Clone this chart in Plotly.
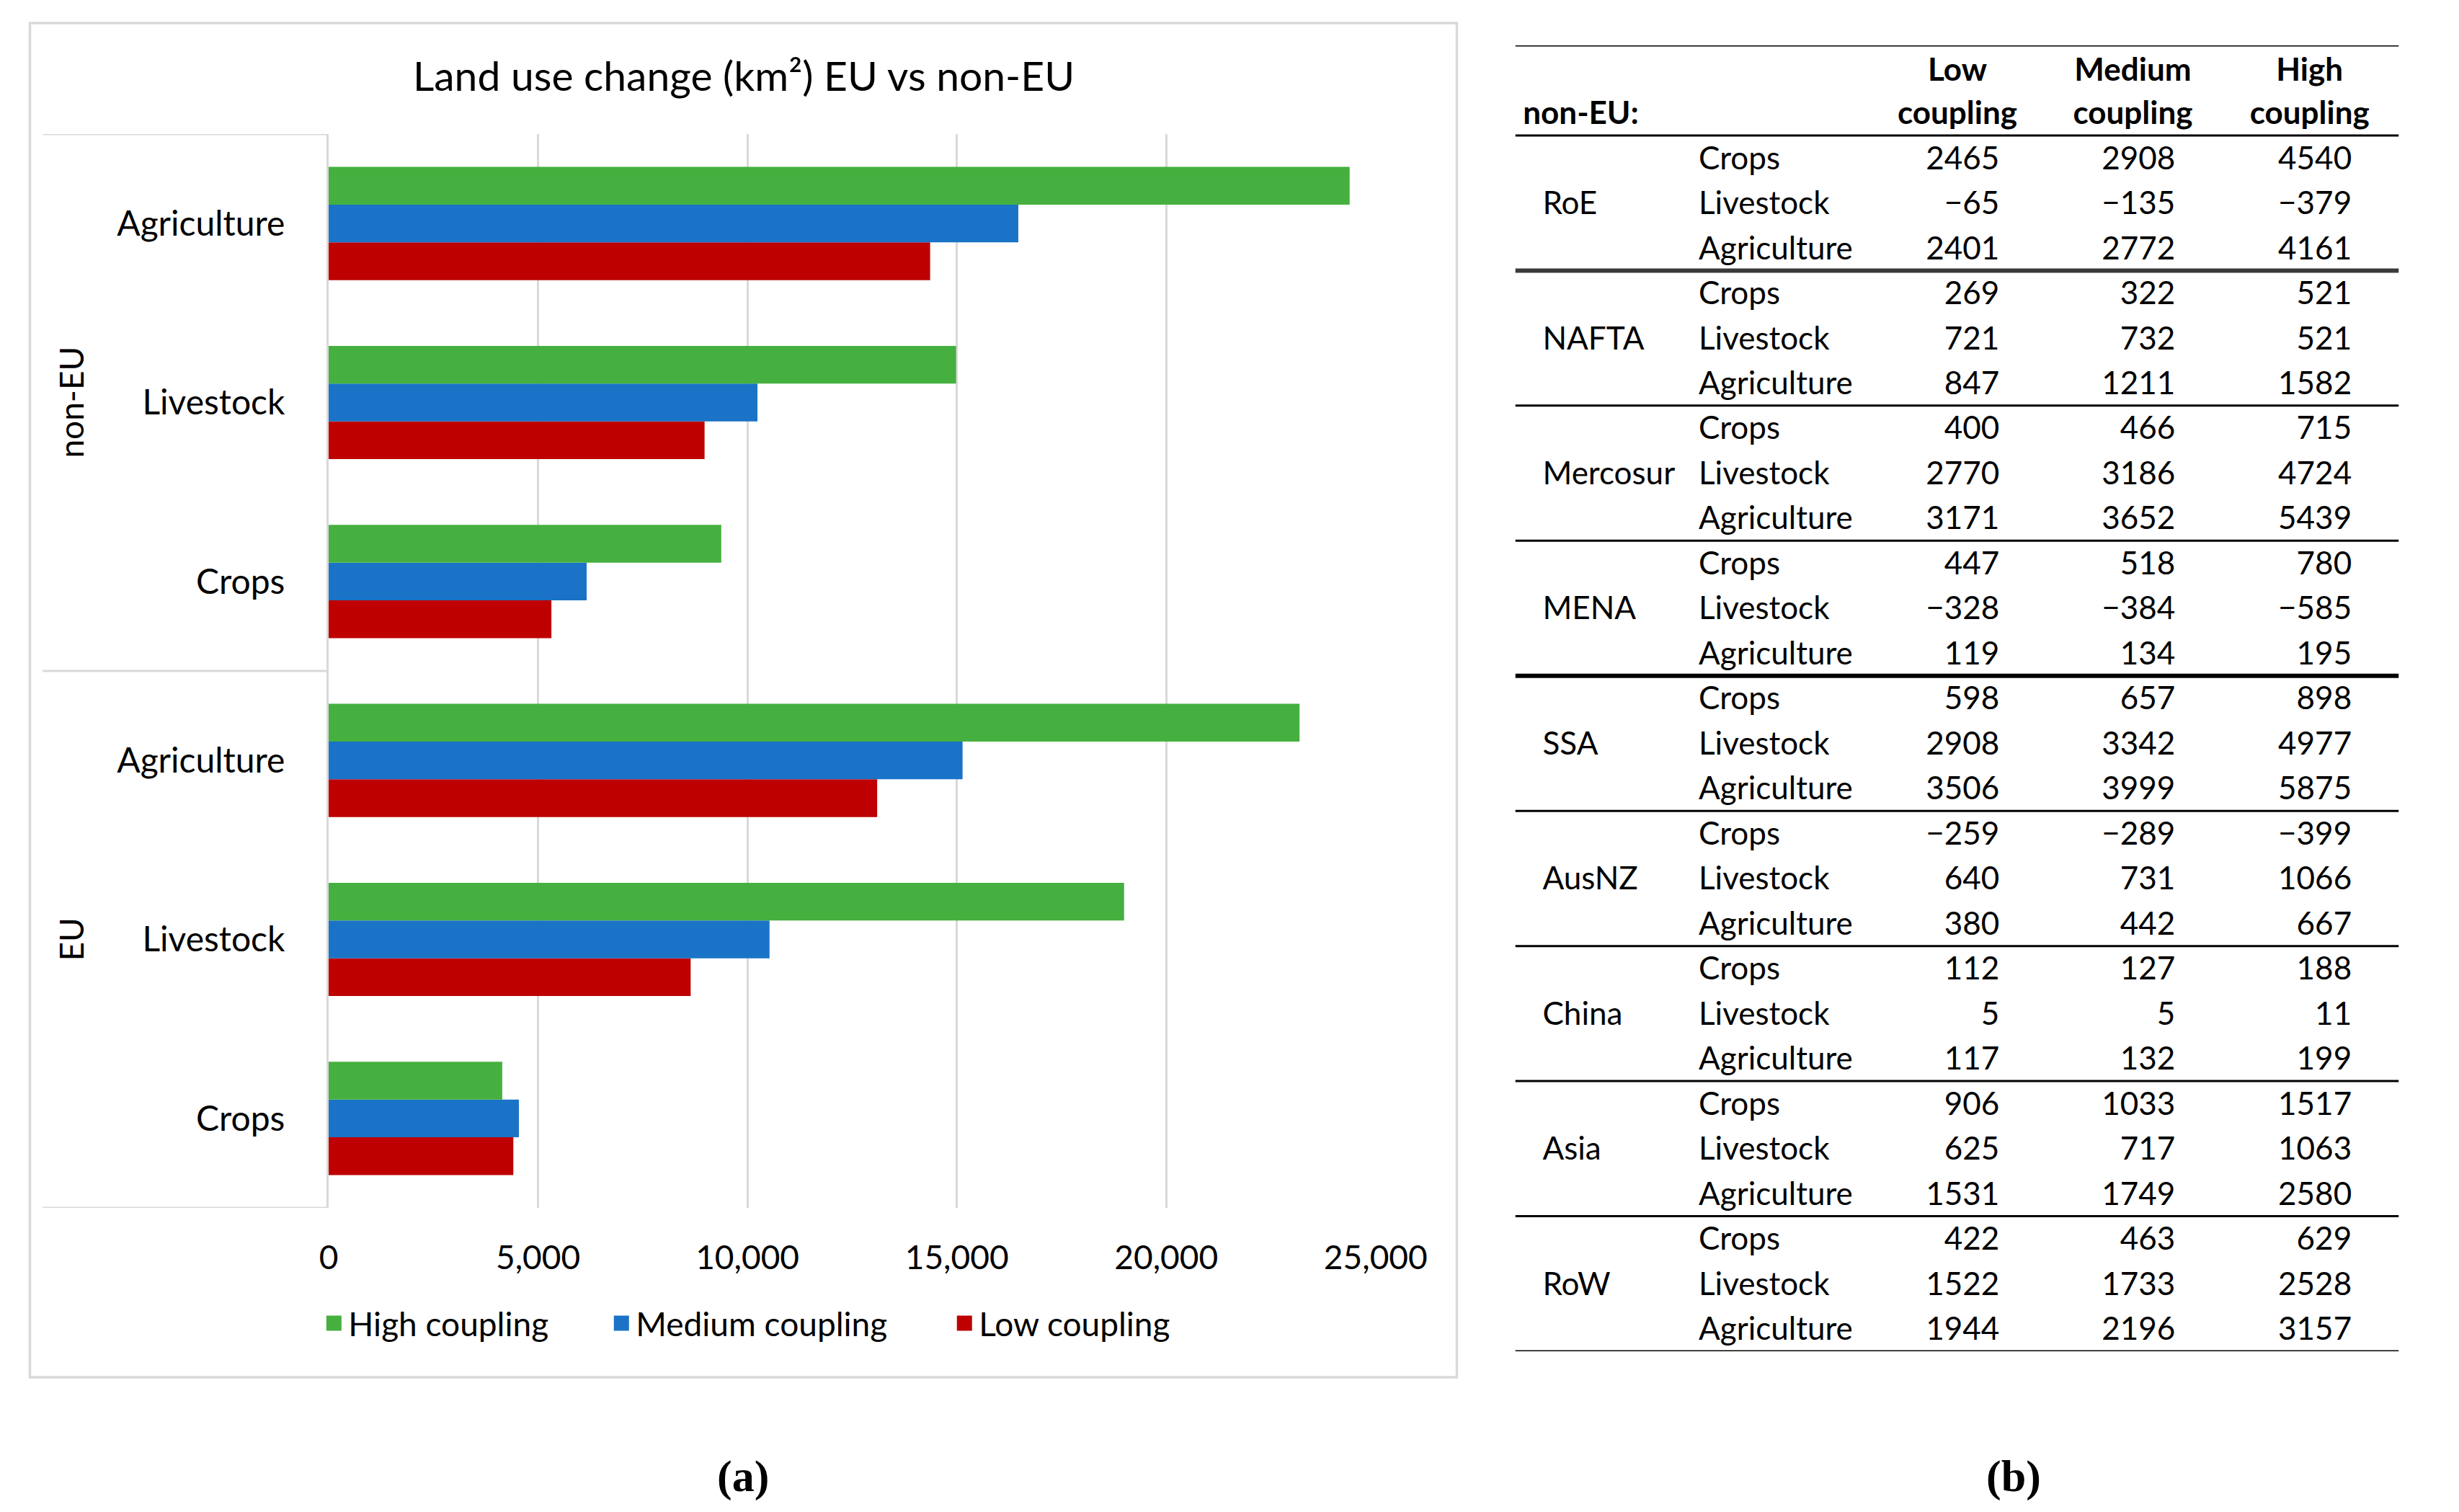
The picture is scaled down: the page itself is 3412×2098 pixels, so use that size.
import plotly.graph_objects as go

# ---------------- data ----------------
groups = ["EU", "EU", "EU", "non-EU", "non-EU", "non-EU"]
categories = ["Crops", "Livestock", "Agriculture", "Crops", "Livestock", "Agriculture"]
high_coupling = [4145, 18994, 23183, 9375, 14982, 24380]
medium_coupling = [4543, 10527, 15137, 6161, 10239, 16468]
low_coupling = [4410, 8644, 13098, 5319, 8976, 14362]
x_ticks = [0, 5000, 10000, 15000, 20000, 25000]

regions = ["RoE", "NAFTA", "Mercosur", "MENA", "SSA", "AusNZ", "China", "Asia", "RoW"]
items = ["Crops", "Livestock", "Agriculture"]
tbl_low = [2465, -65, 2401, 269, 721, 847, 400, 2770, 3171, 447, -328, 119,
           598, 2908, 3506, -259, 640, 380, 112, 5, 117, 906, 625, 1531, 422, 1522, 1944]
tbl_medium = [2908, -135, 2772, 322, 732, 1211, 466, 3186, 3652, 518, -384, 134,
              657, 3342, 3999, -289, 731, 442, 127, 5, 132, 1033, 717, 1749, 463, 1733, 2196]
tbl_high = [4540, -379, 4161, 521, 521, 1582, 715, 4724, 5439, 780, -585, 195,
            898, 4977, 5875, -399, 1066, 667, 188, 11, 199, 1517, 1063, 2580, 629, 2528, 3157]
col_headers = [("Low", "coupling"), ("Medium", "coupling"), ("High", "coupling")]

# ---------------- styling ----------------
W, H = 3412, 2098
FONT = "Lato"
GREEN, BLUE, RED = "#45B03F", "#1A73C6", "#BE0000"
GRID = "#D9D9D9"


def px(x):
    return x / W


def py(y):
    return 1 - y / H


fig = go.Figure()

ypos = list(range(len(categories)))
for name, vals, col in [("Low coupling", low_coupling, RED),
                        ("Medium coupling", medium_coupling, BLUE),
                        ("High coupling", high_coupling, GREEN)]:
    fig.add_trace(go.Bar(x=vals, y=ypos, orientation="h", name=name,
                         marker=dict(color=col, line=dict(width=0)),
                         showlegend=False, legendgroup=name,
                         xaxis="x", yaxis="y"))

# legend proxies (square swatches), each in its own legend box
legend_spec = [("High coupling", GREEN, "legend", 433),
               ("Medium coupling", BLUE, "legend2", 842),
               ("Low coupling", RED, "legend3", 1330)]
for name, col, lg, _ in legend_spec:
    fig.add_trace(go.Scatter(x=[None], y=[None], mode="markers", name=name,
                             legendgroup=name, legend=lg,
                             marker=dict(symbol="square", size=16, color=col,
                                         line=dict(color=col, width=5)),
                             xaxis="x", yaxis="y"))

# ---------------- table (b) ----------------
ROWS = 2 + 3 * len(regions)
n = len(regions) * 3


def fmt(v):
    return ("\u2212" + str(-v)) if v < 0 else str(v)


row_y = [2 + r + 0.57 for r in range(n)]
col_item_x = 0.2076
col_right = [0.548, 0.747, 0.9467]
col_center = [0.5004, 0.699, 0.899]
TF = dict(family=FONT, size=44, color="black")

fig.add_trace(go.Scatter(x=[0.031] * len(regions), y=[2 + 3 * k + 1.57 for k in range(len(regions))],
                         text=regions, mode="text", textposition="middle right",
                         textfont=TF, showlegend=False, hoverinfo="skip",
                         xaxis="x2", yaxis="y2"))
fig.add_trace(go.Scatter(x=[col_item_x] * n, y=row_y,
                         text=[items[r % 3] for r in range(n)], mode="text",
                         textposition="middle right", textfont=TF,
                         showlegend=False, hoverinfo="skip", xaxis="x2", yaxis="y2"))
for cx, vals in zip(col_right, [tbl_low, tbl_medium, tbl_high]):
    fig.add_trace(go.Scatter(x=[cx] * n, y=row_y, text=[fmt(v) for v in vals],
                             mode="text", textposition="middle left", textfont=TF,
                             showlegend=False, hoverinfo="skip", xaxis="x2", yaxis="y2"))
HF = dict(family=FONT, size=44, color="black", weight="bold")
fig.add_trace(go.Scatter(x=col_center * 2, y=[0.61] * 3 + [1.57] * 3,
                         text=[h[0] for h in col_headers] + [h[1] for h in col_headers],
                         mode="text", textposition="middle center", textfont=HF,
                         showlegend=False, hoverinfo="skip", xaxis="x2", yaxis="y2"))
fig.add_trace(go.Scatter(x=[0.0088], y=[1.57], text=["non-EU:"], mode="text",
                         textposition="middle right", textfont=HF,
                         showlegend=False, hoverinfo="skip", xaxis="x2", yaxis="y2"))

shapes = []
line_rows = [0, 2] + [2 + 3 * (k + 1) for k in range(len(regions))]
for r in line_rows:
    w, c = 3, "black"
    if r == 5:
        w, c = 6, "#3a3a3a"
    if r == 14:
        w, c = 6, "black"
    shapes.append(dict(type="line", xref="x2", yref="y2", x0=0, x1=1, y0=r, y1=r,
                       line=dict(color=c, width=w)))

# chart frame
shapes.append(dict(type="rect", xref="paper", yref="paper",
                   x0=px(21), x1=px(2051), y0=py(24), y1=py(1903),
                   line=dict(color=GRID, width=3.5), layer="below"))
# group separators in category-label area
for b in [-0.5, 2.5, 5.5]:
    shapes.append(dict(type="line", xref="paper", yref="y", x0=px(39), x1=px(446),
                       y0=b, y1=b, line=dict(color=GRID, width=3)))

annotations = [
    dict(text="Land use change (km²) EU vs non-EU", xref="paper", yref="paper",
         x=px(1037), y=py(96), showarrow=False, xanchor="center", yanchor="middle",
         font=dict(family=FONT, size=57, color="black")),
    dict(text="(a)", xref="paper", yref="paper", x=px(1035), y=py(2040), showarrow=False,
         xanchor="center", yanchor="middle",
         font=dict(family="Liberation Serif", size=62, color="black", weight="bold")),
    dict(text="(b)", xref="paper", yref="paper", x=px(2843), y=py(2040), showarrow=False,
         xanchor="center", yanchor="middle",
         font=dict(family="Liberation Serif", size=62, color="black", weight="bold")),
]
grp_names = []
for g in groups:
    if g not in grp_names:
        grp_names.append(g)
for g in grp_names:
    idx = [i for i, gg in enumerate(groups) if gg == g]
    annotations.append(dict(text=g, xref="paper", yref="y", x=px(79),
                            y=sum(idx) / len(idx), textangle=-90, showarrow=False,
                            xanchor="center", yanchor="middle",
                            font=dict(family=FONT, size=46, color="black")))

legend_layout = {}
for _, _, lg, xstart in legend_spec:
    legend_layout[lg] = dict(orientation="h", x=px(xstart), y=py(1828), xanchor="left",
                             yanchor="middle", font=dict(family=FONT, size=46, color="black"),
                             bgcolor="rgba(0,0,0,0)", borderwidth=0,
                             itemclick=False, itemdoubleclick=False)

fig.update_layout(
    width=W, height=H,
    margin=dict(l=0, r=0, t=0, b=0),
    paper_bgcolor="white", plot_bgcolor="white",
    barmode="group", bargap=0.367, bargroupgap=0,
    font=dict(family=FONT, color="black"),
    xaxis=dict(domain=[px(446), px(1936)], range=[0, 25010], tickvals=x_ticks,
               tickformat=",d", showgrid=True, gridcolor=GRID, gridwidth=2.5,
               zeroline=False, showline=False, ticks="", ticklabelstandoff=38,
               tickfont=dict(family=FONT, size=46, color="black"), anchor="y"),
    yaxis=dict(domain=[py(1668), py(178)], range=[-0.5, 5.5], tickvals=ypos,
               ticktext=categories, showgrid=False, zeroline=False, showline=True,
               linecolor=GRID, linewidth=3, ticks="", ticklabelstandoff=48,
               tickfont=dict(family=FONT, size=48, color="black"), anchor="x"),
    xaxis2=dict(domain=[px(2134), px(3391)], range=[0, 1], visible=False, anchor="y2"),
    yaxis2=dict(domain=[py(1867), py(55)], range=[ROWS, 0], visible=False, anchor="x2"),
    shapes=shapes,
    annotations=annotations,
    **legend_layout,
)

fig.write_html("out.html")
